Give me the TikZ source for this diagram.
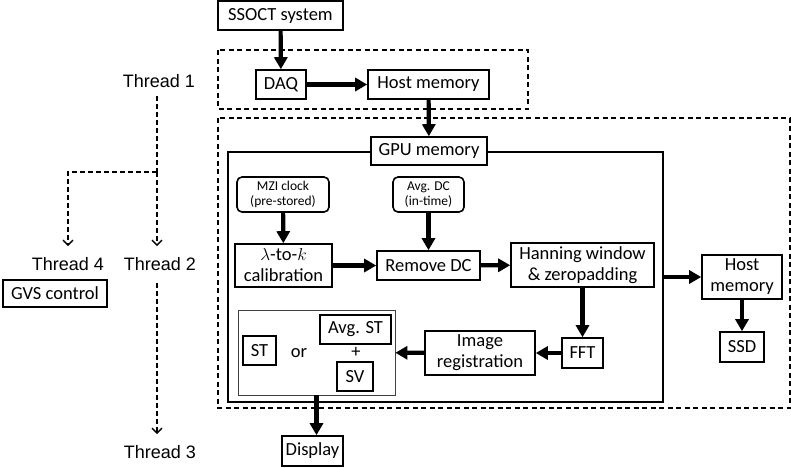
\documentclass[tikz,border=0pt]{standalone}
\usepackage{fontspec}
\setmainfont{Carlito}
\newfontfamily\threadfont{Liberation Sans}
\usetikzlibrary{arrows.meta}

\begin{document}
\begin{tikzpicture}[x=1pt,y=-1pt]

\tikzstyle{boxnode} = [draw, line width=1.6pt, inner sep=1pt, align=center, font=\fontsize{18.5}{21}\selectfont]
\tikzstyle{smallnode} = [draw, line width=1.6pt, rounded corners=5pt, inner sep=1pt, align=center, font=\fontsize{13.5}{15.5}\selectfont]
\tikzstyle{textnode} = [inner sep=0pt, font=\fontsize{18.5}{21}\selectfont]
\tikzstyle{threadnode} = [inner sep=0pt, font=\threadfont\fontsize{18}{20}\selectfont]
\tikzstyle{dashedbox} = [line width=1.3pt, dash pattern=on 5pt off 3.5pt]
\tikzstyle{threadline} = [line width=1.8pt, dash pattern=on 5pt off 3pt]
\tikzstyle{threadarrow} = [threadline, -{Straight Barb[length=5pt,width=10pt,line width=1.4pt]}]
\tikzstyle{myedgestyle} = [line width=4.2pt, -{Triangle[length=12pt,width=13pt]}]

\useasboundingbox (0,0) rectangle (791,467);

% thread areas
\draw [dashedbox] (218,50) rectangle (528,109);
\draw [dashedbox] (218,118) rectangle (790,408);

\node [boxnode, minimum width=125pt, minimum height=29pt] (ssoct) at (280.5,15.5) {SSOCT system};
\node [boxnode, minimum width=50pt, minimum height=29pt] (daq) at (281,84.5) {DAQ};
\node [boxnode, minimum width=121pt, minimum height=29pt] (host1) at (428.5,84.5) {Host memory};

\node [draw, line width=1.3pt, minimum width=435pt, minimum height=250pt, inner sep=0pt] (gpuframe) at (445.5,277) {};
\node [boxnode, fill=white, minimum width=116pt, minimum height=28pt] (gpu) at (429,151) {GPU memory};

\node [smallnode, minimum width=92pt, minimum height=35pt] (mzi) at (283,194.5) {MZI clock\\(pre-stored)};
\node [smallnode, minimum width=71pt, minimum height=35pt] (avgdc) at (428.5,194.5) {Avg. DC\\(in-time)};
\node [boxnode, minimum width=97pt, minimum height=43pt] (lamk) at (283.5,265.5) {$\lambda$-to-$k$\\calibration};
\node [boxnode, minimum width=103pt, minimum height=29pt] (rmdc) at (428.5,265.5) {Remove DC};
\node [boxnode, minimum width=143pt, minimum height=44pt] (hann) at (582.5,265) {Hanning window\\\& zeropadding};
\node [boxnode, minimum width=41pt, minimum height=30pt] (fft) at (582.5,353) {FFT};
\node [boxnode, minimum width=110pt, minimum height=44pt] (imreg) at (480,353) {Image\\registration};

\node [draw=black!75, line width=0.8pt, minimum width=157pt, minimum height=85pt, inner sep=0pt] (inner) at (316.5,352.5) {};
\node [boxnode, minimum width=33pt, minimum height=29pt] (st) at (259.5,350.5) {ST};
\node [textnode] (or) at (299,353) {or};
\node [boxnode, minimum width=71pt, minimum height=29pt] (avgst) at (355.5,329.5) {Avg. ST};
\node [textnode] (plus) at (356,352) {+};
\node [boxnode, minimum width=36pt, minimum height=29pt] (sv) at (355,376.5) {SV};

\node [boxnode, minimum width=80pt, minimum height=44pt] (host2) at (742,277) {Host\\memory};
\node [boxnode, minimum width=44pt, minimum height=30pt] (ssd) at (742,347) {SSD};
\node [boxnode, minimum width=61pt, minimum height=30pt] (display) at (312.5,451) {Display};
\node [boxnode, minimum width=104pt, minimum height=27pt] (gvs) at (55,293.5) {GVS control};

\draw [myedgestyle] (ssoct) edge (daq);
\draw [myedgestyle] (daq) edge (host1);
\draw [myedgestyle] (host1) edge (gpu);
\draw [myedgestyle] (mzi) edge (lamk);
\draw [myedgestyle] (avgdc) edge (rmdc);
\draw [myedgestyle] (lamk) edge (rmdc);
\draw [myedgestyle] (rmdc) edge (hann);
\draw [myedgestyle] (hann) edge (fft);
\draw [myedgestyle] (fft) edge (imreg);
\draw [myedgestyle] (imreg) edge (inner);
\draw [myedgestyle] (gpuframe) edge (host2);
\draw [myedgestyle] (host2) edge (ssd);
\draw [myedgestyle] (inner.south) -- (inner.south |- display.north);

% threads
\node [threadnode] (t1) at (159,81) {Thread 1};
\node [threadnode] (t4) at (68,264) {Thread 4};
\node [threadnode] (t2) at (160,264) {Thread 2};
\node [threadnode] (t3) at (160,452) {Thread 3};
\coordinate (split) at (157,172);
\draw [threadline, shorten <=8pt] (split |- t1.south) -- (split);
\draw [threadarrow, shorten >=11pt] (split) -- (split |- t2.north);
\draw [threadarrow, shorten >=11pt] (split) -| (t4.north);
\draw [threadarrow, shorten <=12pt, shorten >=11pt] (split |- t2.south) -- (split |- t3.north);

\end{tikzpicture}
\end{document}
